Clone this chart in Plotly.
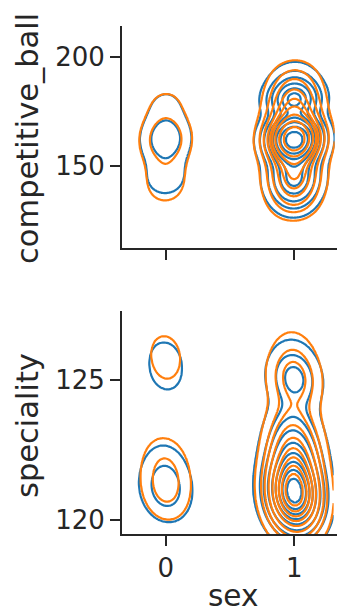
import numpy as np
import plotly.graph_objects as go

# ---- data -------------------------------------------------------------
SEX_LEVELS = [0, 1]
HUE_COLORS = ["#1f77b4", "#ff7f0e"]

# competitive_ball observations: value grid and counts per (group, sex)
CB_VALUES = [130, 135, 140, 145, 150, 155, 160, 165, 170, 175, 180, 185, 190, 195]
CB_G1_SEX0 = [0, 0, 3, 5, 3, 4, 9, 9, 4, 3, 3, 1, 0, 0]
CB_G1_SEX1 = [3, 8, 20, 28, 14, 22, 80, 80, 8, 4, 48, 16, 7, 2]
CB_G2_SEX0 = [0, 2, 4, 4, 4, 5, 10, 9, 5, 3, 3, 1, 0, 0]
CB_G2_SEX1 = [5, 12, 20, 26, 24, 30, 80, 80, 30, 24, 20, 14, 8, 3]

# speciality observations
SP_VALUES = [120, 120.5, 121, 121.5, 122, 122.5, 123, 123.5, 124, 124.5, 125, 125.5, 126, 126.5]
SP_G1_SEX0 = [0, 3, 9, 6, 3, 1, 0, 0, 0, 0, 3, 2, 3, 0]
SP_G1_SEX1 = [15, 45, 70, 40, 28, 20, 12, 6, 2, 3, 15, 5, 2, 0]
SP_G2_SEX0 = [0, 2, 7, 6, 5, 2, 0, 0, 0, 0, 1, 2, 3, 1]
SP_G2_SEX1 = [16, 48, 70, 42, 30, 22, 14, 7, 3, 4, 15, 6, 3, 1]

CB_TICKS = [150, 200]
SP_TICKS = [120, 125]
X_TICKS = [0, 1]
X_TICKTEXT = ["0", "1"]

# ---- bivariate KDE (scott bandwidth, full covariance) -----------------
def observations(values, sex0, sex1):
    ys = np.concatenate([np.repeat(values, sex0), np.repeat(values, sex1)]).astype(float)
    xs = np.concatenate([np.full(int(np.sum(sex0)), SEX_LEVELS[0]),
                         np.full(int(np.sum(sex1)), SEX_LEVELS[1])]).astype(float)
    return xs, ys


def kernel_cov(xs, ys):
    data = np.vstack([xs, ys])
    n = data.shape[1]
    return np.cov(data) * n ** (-1.0 / 3.0)


def kde_grid(xs, ys, gx, gy):
    kcov = kernel_cov(xs, ys)
    inv = np.linalg.inv(kcov)
    norm = 1.0 / (2 * np.pi * np.sqrt(np.linalg.det(kcov)))
    X, Y = np.meshgrid(gx, gy)
    dens = np.zeros_like(X)
    pts, cnt = np.unique(np.vstack([xs, ys]).T, axis=0, return_counts=True)
    for (px, py), c in zip(pts, cnt):
        dx = X - px
        dy = Y - py
        q = inv[0, 0] * dx * dx + 2 * inv[0, 1] * dx * dy + inv[1, 1] * dy * dy
        dens += c * np.exp(-0.5 * q)
    return dens * norm / len(xs)


def iso_levels(dens_list, props):
    vals = np.concatenate([d.ravel() for d in dens_list])
    sv = np.sort(vals)[::-1]
    cum = np.cumsum(sv) / vals.sum()
    idx = np.searchsorted(cum, 1 - np.asarray(props))
    return np.take(sv, idx, mode="clip")


def panel_traces(values, groups, xref, yref):
    obs = [observations(values, s0, s1) for s0, s1 in groups]
    allx = np.concatenate([o[0] for o in obs])
    ally = np.concatenate([o[1] for o in obs])
    bw = np.sqrt(np.diag(kernel_cov(allx, ally)))
    gx = np.linspace(allx.min() - 3 * bw[0], allx.max() + 3 * bw[0], 200)
    gy = np.linspace(ally.min() - 3 * bw[1], ally.max() + 3 * bw[1], 200)
    ntot = len(allx)
    dens = [kde_grid(x, y, gx, gy) * len(x) / ntot for x, y in obs]
    levels = iso_levels(dens, np.linspace(0.05, 1, 10))[:-1]
    dmax = max(d.max() for d in dens)
    xp = np.concatenate([[0.0], levels, [dmax * 1.5]])
    fp = np.concatenate([[-1.0], np.arange(len(levels)), [len(levels)]])
    traces = []
    for d, color in zip(dens, HUE_COLORS):
        z = np.round(np.interp(d, xp, fp), 4)
        traces.append(go.Contour(
            x=np.round(gx, 5), y=np.round(gy, 5), z=z,
            xaxis=xref, yaxis=yref,
            autocontour=False,
            contours=dict(start=0, end=len(levels) - 1, size=1, coloring="lines"),
            colorscale=[[0, color], [1, color]],
            showscale=False,
            line=dict(width=2.2, smoothing=0.8),
            hoverinfo="skip",
        ))
    return traces


fig = go.Figure()
for t in panel_traces(CB_VALUES, [(CB_G1_SEX0, CB_G1_SEX1), (CB_G2_SEX0, CB_G2_SEX1)], "x", "y"):
    fig.add_trace(t)
for t in panel_traces(SP_VALUES, [(SP_G1_SEX0, SP_G1_SEX1), (SP_G2_SEX0, SP_G2_SEX1)], "x2", "y2"):
    fig.add_trace(t)

# ---- layout -----------------------------------------------------------
W, H = 337, 614
INK = "#262626"
FONT = "DejaVu Sans"


def fx(p):
    return p / W


def fy(p):
    return 1 - p / H


axis_style = dict(
    showline=True, linecolor=INK, linewidth=2,
    ticks="outside", ticklen=10, tickwidth=2, tickcolor=INK,
    showgrid=False, zeroline=False,
    tickfont=dict(family=FONT, size=26, color=INK),
)

fig.update_layout(
    width=W, height=H,
    margin=dict(l=0, r=0, t=0, b=0),
    paper_bgcolor="white", plot_bgcolor="white",
    showlegend=False,
    xaxis=dict(domain=[fx(122), 1], range=[-0.34, 1.333], anchor="y",
               tickvals=X_TICKS, showticklabels=False, **axis_style),
    yaxis=dict(domain=[fy(248), fy(26)], range=[112.4, 214.2], anchor="x",
               tickvals=CB_TICKS, **axis_style),
    xaxis2=dict(domain=[fx(122), 1], range=[-0.34, 1.333], anchor="y2",
                tickvals=X_TICKS, ticktext=X_TICKTEXT, **axis_style),
    yaxis2=dict(domain=[fy(534), fy(311)], range=[119.5, 127.46], anchor="x2",
                tickvals=SP_TICKS, **axis_style),
    annotations=[
        dict(text="competitive_ball", x=fx(27), y=fy(139), xref="paper", yref="paper",
             textangle=-90, showarrow=False, xanchor="center", yanchor="middle",
             font=dict(family=FONT, size=30.5, color=INK)),
        dict(text="speciality", x=fx(27), y=fy(426), xref="paper", yref="paper",
             textangle=-90, showarrow=False, xanchor="center", yanchor="middle",
             font=dict(family=FONT, size=30.5, color=INK)),
        dict(text="sex", x=fx(232.5), y=0, xref="paper", yref="paper",
             showarrow=False, xanchor="center", yanchor="bottom", borderpad=0,
             font=dict(family=FONT, size=29.5, color=INK)),
    ],
)

fig.write_html("out.html")
